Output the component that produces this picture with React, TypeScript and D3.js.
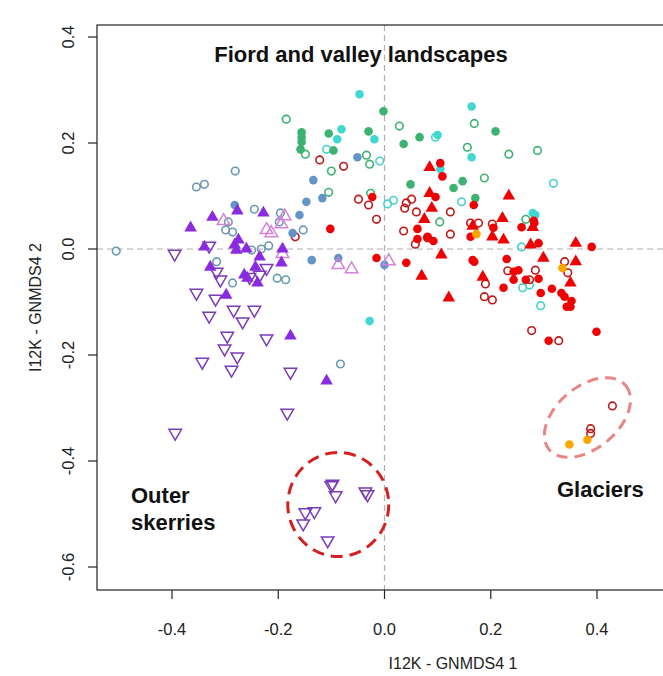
import React from "react";
import * as d3 from "d3";

// ---- Data (GNMDS axis 1, axis 2) ----
const purpleFilledTri: [number, number][] = [
  [-0.277, 0.072], [-0.228, 0.068], [-0.324, 0.06], [-0.365, 0.04], [-0.275, 0.017],
  [-0.282, 0.008], [-0.279, -0.002], [-0.26, 0.0], [-0.235, -0.015], [-0.328, -0.034],
  [-0.243, -0.034], [-0.264, -0.049], [-0.258, -0.055], [-0.239, -0.064], [-0.298, -0.087],
  [-0.177, -0.164], [-0.109, -0.249], [-0.192, 0.0], [-0.194, -0.026], [-0.339, 0.004],
];
const purpleOpenDownTri: [number, number][] = [
  [-0.395, -0.009], [-0.33, 0.006], [-0.316, -0.043], [-0.309, -0.058], [-0.222, -0.036],
  [-0.235, -0.049], [-0.254, -0.053], [-0.354, -0.083], [-0.318, -0.094], [-0.33, -0.126],
  [-0.284, -0.115], [-0.245, -0.115], [-0.267, -0.137], [-0.296, -0.164], [-0.222, -0.169],
  [-0.301, -0.188], [-0.277, -0.203], [-0.343, -0.213], [-0.288, -0.228], [-0.177, -0.232],
  [-0.183, -0.309], [-0.394, -0.347],
  [-0.1, -0.446], [-0.098, -0.443], [-0.092, -0.465], [-0.036, -0.458], [-0.032, -0.463],
  [-0.149, -0.497], [-0.132, -0.495], [-0.153, -0.518], [-0.107, -0.55],
];
const pinkOpenTri: [number, number][] = [
  [-0.303, 0.053], [-0.222, 0.036], [-0.213, 0.03], [-0.188, 0.062], [-0.194, 0.047],
  [-0.192, -0.009], [-0.087, -0.03], [-0.062, -0.038], [0.008, -0.023],
];
const blueFilled: [number, number][] = [
  [-0.282, 0.083], [-0.16, 0.064], [-0.147, 0.089], [-0.117, 0.096], [-0.134, 0.13],
  [-0.051, 0.173], [-0.173, 0.03], [-0.137, -0.021], [-0.087, -0.017], [0.0, -0.03],
];
const blueOpen: [number, number][] = [
  [-0.505, -0.004], [-0.354, 0.117], [-0.339, 0.122], [-0.281, 0.147], [-0.245, 0.075],
  [-0.294, 0.051], [-0.299, 0.036], [-0.286, 0.032], [-0.196, 0.068], [-0.198, 0.051],
  [-0.153, 0.036], [-0.25, -0.002], [-0.232, 0.0], [-0.218, 0.006], [-0.316, -0.024],
  [-0.286, -0.064], [-0.202, -0.055], [-0.186, -0.058], [-0.083, -0.217],
];
const greenFilled: [number, number][] = [
  [-0.156, 0.22], [-0.156, 0.211], [-0.156, 0.202], [-0.158, 0.188], [-0.105, 0.218],
  [-0.096, 0.186], [-0.03, 0.222], [-0.002, 0.26], [0.036, 0.198], [0.066, 0.211],
  [0.049, 0.122], [0.147, 0.128], [0.13, 0.115], [0.171, 0.096], [0.209, 0.222],
];
const greenOpen: [number, number][] = [
  [-0.185, 0.245], [0.028, 0.232], [-0.149, 0.179], [-0.034, 0.177], [-0.028, 0.16],
  [-0.1, 0.147], [-0.105, 0.107], [-0.026, 0.105], [0.169, 0.237], [0.156, 0.192],
  [0.234, 0.179], [0.288, 0.186], [0.188, 0.134], [0.104, 0.051], [0.266, 0.056],
];
const turqFilled: [number, number][] = [
  [-0.047, 0.292], [-0.081, 0.226], [-0.089, 0.207], [-0.019, 0.207], [0.1, 0.215],
  [0.164, 0.269], [0.164, 0.173], [0.105, 0.151], [0.279, 0.068], [0.284, 0.064],
  [-0.028, -0.136],
];
const turqOpen: [number, number][] = [
  [-0.109, 0.188], [-0.009, 0.166], [0.006, 0.085], [0.017, 0.092], [0.096, 0.211],
  [0.145, 0.089], [0.318, 0.124], [0.258, 0.004], [0.26, -0.073], [0.273, -0.068],
  [0.294, -0.107],
];
const redFilled: [number, number][] = [
  [-0.023, 0.098], [-0.102, 0.038], [-0.015, -0.017], [0.105, 0.162], [0.109, 0.137],
  [0.096, 0.098], [0.168, 0.083], [0.062, 0.038], [0.062, 0.019], [0.081, 0.023],
  [0.092, 0.015], [0.162, 0.023], [0.205, 0.04], [0.258, 0.041], [0.282, 0.049],
  [0.281, 0.053], [0.29, 0.011], [0.39, 0.004], [0.041, -0.026], [0.166, -0.021],
  [0.169, -0.024], [0.23, -0.019], [0.243, -0.043], [0.252, -0.04], [0.243, -0.058],
  [0.266, -0.058], [0.29, -0.056], [0.224, -0.073], [0.294, -0.083], [0.315, -0.075],
  [0.333, -0.083], [0.339, -0.09], [0.352, -0.098], [0.343, -0.109], [0.35, -0.109],
  [0.399, -0.156], [0.309, -0.173],
];
const darkRedOpen: [number, number][] = [
  [-0.122, 0.168], [-0.077, 0.156], [-0.049, 0.094], [-0.03, 0.083], [-0.015, 0.056],
  [-0.168, 0.023], [0.041, 0.087], [0.051, 0.094], [0.038, 0.077], [0.06, 0.07],
  [0.124, 0.07], [0.036, 0.034], [0.124, 0.028], [0.162, 0.049], [0.177, 0.049],
  [0.203, 0.047], [0.058, 0.009], [0.081, 0.021], [0.339, -0.024], [0.345, -0.045],
  [0.232, -0.041], [0.284, -0.04], [0.273, -0.058], [0.19, -0.066], [0.188, -0.09],
  [0.203, -0.096], [0.277, -0.154], [0.328, -0.173],
  [0.429, -0.296], [0.388, -0.339], [0.388, -0.348],
];
const redFilledTri: [number, number][] = [
  [0.085, 0.154], [0.085, 0.105], [0.089, 0.077], [0.075, 0.056], [0.234, 0.1],
  [0.166, 0.043], [0.203, 0.023], [0.224, 0.017], [0.222, 0.058], [0.279, 0.041],
  [0.275, 0.008], [0.36, 0.011], [0.107, -0.011], [0.07, -0.051], [0.121, -0.092],
  [0.299, -0.017], [0.36, -0.024], [0.35, -0.064], [0.185, -0.053],
];
const orangeFilled: [number, number][] = [
  [0.173, 0.028], [0.335, -0.036], [0.348, -0.369], [0.382, -0.36],
];

const xTicks = [-0.4, -0.2, 0.0, 0.2, 0.4];
const yTicks = [-0.6, -0.4, -0.2, 0.0, 0.2, 0.4];

// group outlines: [cx, cy, rx, ry, angleDeg]
const outerSkerriesRing = [-0.087, -0.482, 0.095, 0.098, 0];
const glacierRing = [0.382, -0.318, 0.094, 0.058, -40];

const FONT = "'Liberation Sans', Arial, Helvetica, sans-serif";

export default function App() {
  const W = 663, H = 676;
  const left = 97, top = 25, bottom = 590, right = 809;
  const x = d3.scaleLinear().domain([-0.4, 0.4]).range([172, 597]);
  const y = d3.scaleLinear().domain([0.4, -0.6]).range([37, 567]);

  const triUp = d3.symbol().type(d3.symbolTriangle).size(68)()!;
  const triUpOpen = d3.symbol().type(d3.symbolTriangle).size(68)()!;

  const circles = (pts: [number, number][], fill: string, stroke: string | null, r: number, key: string) =>
    pts.map((p, i) => (
      <circle key={key + i} cx={x(p[0])} cy={y(p[1])} r={r}
        fill={stroke ? "none" : fill} stroke={stroke ?? "none"} strokeWidth={stroke ? 1.6 : 0} />
    ));
  const tris = (pts: [number, number][], color: string, filled: boolean, down: boolean, key: string) =>
    pts.map((p, i) => (
      <path key={key + i} d={filled ? triUp : triUpOpen}
        transform={`translate(${x(p[0])},${y(p[1])})${down ? " rotate(180)" : ""}`}
        fill={filled ? color : "none"} stroke={filled ? "none" : color} strokeWidth={filled ? 0 : 1.5} />
    ));

  const [c1x, c1y, c1rx, c1ry] = outerSkerriesRing;
  const [c2x, c2y, c2rx, c2ry, c2a] = glacierRing;
  const pxPerUnit = x(1) - x(0);

  return (
    <svg width={W} height={H} style={{ position: "absolute", left: 0, top: 0, background: "#fff" }}
      fontFamily={FONT}>
      <rect x={0} y={0} width={W} height={H} fill="#fff" />
      {/* reference lines */}
      <line x1={x(0)} x2={x(0)} y1={top} y2={bottom} stroke="#b0b0b0" strokeWidth={1.2} strokeDasharray="6,4" />
      <line x1={left} x2={right} y1={y(0)} y2={y(0)} stroke="#b0b0b0" strokeWidth={1.2} strokeDasharray="6,4" />
      {/* box */}
      <rect x={left} y={top} width={right - left} height={bottom - top} fill="none" stroke="#222" strokeWidth={1.2} />
      {/* x axis */}
      {xTicks.map((t) => (
        <g key={"xt" + t}>
          <line x1={x(t)} x2={x(t)} y1={bottom} y2={bottom + 9} stroke="#222" strokeWidth={1.2} />
          <text x={x(t)} y={bottom + 45} textAnchor="middle" fontSize={16.5} fill="#222">{t.toFixed(1)}</text>
        </g>
      ))}
      {yTicks.map((t) => (
        <g key={"yt" + t}>
          <line x1={left - 9} x2={left} y1={y(t)} y2={y(t)} stroke="#222" strokeWidth={1.2} />
          <text transform={`translate(${left - 23},${y(t)}) rotate(-90)`} textAnchor="middle" fontSize={16.5} fill="#222">{t.toFixed(1)}</text>
        </g>
      ))}
      <text x={453} y={669} textAnchor="middle" fontSize={16} fill="#222">I12K - GNMDS4 1</text>
      <text transform={`translate(41,${(top + bottom) / 2}) rotate(-90)`} textAnchor="middle" fontSize={16} fill="#222">I12K - GNMDS4 2</text>

      {/* points */}
      {circles(blueOpen, "", "#6a9ab0", 3.8, "bo")}
      {circles(greenOpen, "", "#3cb371", 3.8, "go")}
      {circles(turqOpen, "", "#48d1cc", 3.8, "to")}
      {circles(darkRedOpen, "", "#c01818", 3.8, "do")}
      {circles(blueFilled, "#6495c8", null, 4.3, "bf")}
      {circles(greenFilled, "#3cb371", null, 4.3, "gf")}
      {circles(turqFilled, "#40d8d0", null, 4.3, "tf")}
      {circles(redFilled, "#f00000", null, 4.3, "rf")}
      {circles(orangeFilled, "#ffa500", null, 4.3, "of")}
      {tris(pinkOpenTri, "#d582dd", false, false, "pt")}
      {tris(purpleOpenDownTri, "#7a3cb8", false, true, "dt")}
      {tris(purpleFilledTri, "#8a2be2", true, false, "ft")}
      {tris(redFilledTri, "#f00000", true, false, "rt")}

      {/* group outlines */}
      <ellipse cx={x(c1x)} cy={y(c1y)} rx={c1rx * pxPerUnit} ry={c1ry * pxPerUnit}
        fill="none" stroke="#d42020" strokeWidth={3} strokeDasharray="12,7" />
      <ellipse cx={0} cy={0} rx={c2rx * pxPerUnit} ry={c2ry * pxPerUnit}
        transform={`translate(${x(c2x)},${y(c2y)}) rotate(${c2a})`}
        fill="none" stroke="#e88585" strokeWidth={3} strokeDasharray="11,7" />

      {/* annotations */}
      <text x={361} y={62} textAnchor="middle" fontSize={22} fontWeight="bold" fill="#111">Fiord and valley landscapes</text>
      <text x={131} y={503} fontSize={22} fontWeight="bold" fill="#111">Outer</text>
      <text x={131} y={530} fontSize={22} fontWeight="bold" fill="#111">skerries</text>
      <text x={557} y={497} fontSize={22} fontWeight="bold" fill="#111">Glaciers</text>
    </svg>
  );
}
